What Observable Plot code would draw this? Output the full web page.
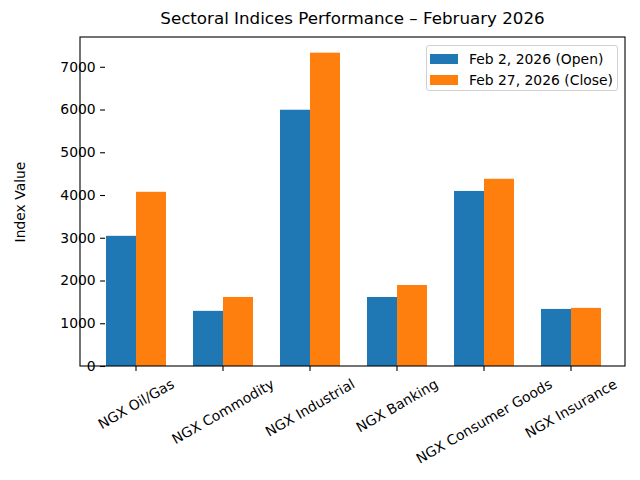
<!DOCTYPE html>
<html><head><meta charset="utf-8">
<script src="https://cdn.jsdelivr.net/npm/d3@7"></script>
<script src="https://cdn.jsdelivr.net/npm/@observablehq/plot@0.6"></script>
<style>
body{margin:0;background:#fff;font-family:"DejaVu Sans",sans-serif;}
#wrap{position:relative;width:640px;height:480px;overflow:hidden;background:#fff;}
#title{height:30px;position:relative;}
#title span{position:absolute;left:80px;width:545px;text-align:center;top:8px;font-size:16.7px;line-height:20px;color:#000;white-space:nowrap;}
#legend{position:absolute;left:426px;top:45px;width:190px;height:44px;border:1px solid #d0d0d0;border-radius:3px;background:rgba(255,255,255,0.8);font-size:13.9px;color:#000;}
.row{position:absolute;left:3px;height:16px;line-height:16px;white-space:nowrap;}
.sw{display:inline-block;width:28px;height:10px;vertical-align:middle;margin-right:11px;position:relative;top:-1px;}
</style></head><body>
<div id="wrap">
<div id="title"><span>Sectoral Indices Performance – February 2026</span></div>
<div id="chart"></div>
<div id="legend"></div>
</div>
<script>
const sectors = ["NGX Oil/Gas","NGX Commodity","NGX Industrial","NGX Banking","NGX Consumer Goods","NGX Insurance"];
const seriesNames = ["Feb 2, 2026 (Open)","Feb 27, 2026 (Close)"];
const openValues = [3045, 1290, 5995, 1615, 4095, 1335];
const closeValues = [4075, 1615, 7330, 1895, 4380, 1360];
const yTicks = [0,1000,2000,3000,4000,5000,6000,7000];
const colors = ["#1f77b4","#ff7f0e"];

const data = sectors.flatMap((s,i)=>[
  {sector:s, series:seriesNames[0], value:openValues[i]},
  {sector:s, series:seriesNames[1], value:closeValues[i]}
]);
const yMax = d3.max(data, d=>d.value)*1.05;
const W=640,H=450,mL=80,mR=15,mT=7,mB=114;

const plot = Plot.plot({
  width:W, height:H, marginLeft:mL, marginRight:mR, marginTop:mT, marginBottom:mB,
  style:{fontFamily:"DejaVu Sans", fontSize:"13.9px", color:"#000", background:"#fff", overflow:"visible"},
  fx:{domain:sectors, paddingInner:0.3, paddingOuter:0.276, label:null, axis:null},
  x:{domain:seriesNames, padding:0, axis:null},
  y:{domain:[0,yMax]},
  color:{domain:seriesNames, range:colors},
  marks:[
    Plot.barY(data,{fx:"sector", x:"series", y:"value", fill:"series"}),
    Plot.axisY({ticks:yTicks, tickFormat:"d", tickSize:4.9, tickPadding:4.9, label:"Index Value", labelAnchor:"center", labelOffset:90, labelArrow:"none", fontSize:13.9, strokeWidth:1.1}),
    Plot.axisFx({anchor:"bottom", tickSize:4.9, tickPadding:4.9, tickRotate:-30, label:null, fontSize:13.9, strokeWidth:1.1})
  ]
});
document.getElementById("chart").appendChild(plot);

const svg = d3.select(plot.tagName.toLowerCase()==="svg" ? plot : plot.querySelector("svg"));
svg.append("rect").attr("x",mL).attr("y",mT).attr("width",W-mL-mR).attr("height",H-mT-mB)
  .attr("fill","none").attr("stroke","#000").attr("stroke-width",1.1);

// matplotlib-style centred rotated labels
const svgNode = svg.node();
const sctm = svgNode.getScreenCTM();
svg.selectAll('g[aria-label="fx-axis tick label"] text').each(function(){
  const el = this;
  const tr = el.getAttribute("transform")||"";
  const m = tr.match(/translate\(\s*([-\d.e]+)[ ,]+([-\d.e]+)\s*\)/);
  if(!m) return;
  const tx = +m[1];
  const pctm = el.parentNode.getScreenCTM();
  const axisLocal = (H-mB) - (pctm.f - sctm.f);
  el.removeAttribute("y");
  el.setAttribute("dy","0.35em");
  el.setAttribute("text-anchor","middle");
  d3.select(el.parentNode).attr("text-anchor", null);
  const w = el.getComputedTextLength();
  const hb = w*0.5 + 16.2*0.866;
  el.setAttribute("transform",`translate(${tx},${axisLocal+9.7+hb/2}) rotate(-30)`);
});

const leg = document.getElementById("legend");
seriesNames.forEach((s,i)=>{
  const r = document.createElement("div");
  r.className="row"; r.style.top=(i===0?5:26)+"px";
  r.innerHTML=`<span class="sw" style="background:${colors[i]}"></span>${s}`;
  leg.appendChild(r);
});
</script>
</body></html>
